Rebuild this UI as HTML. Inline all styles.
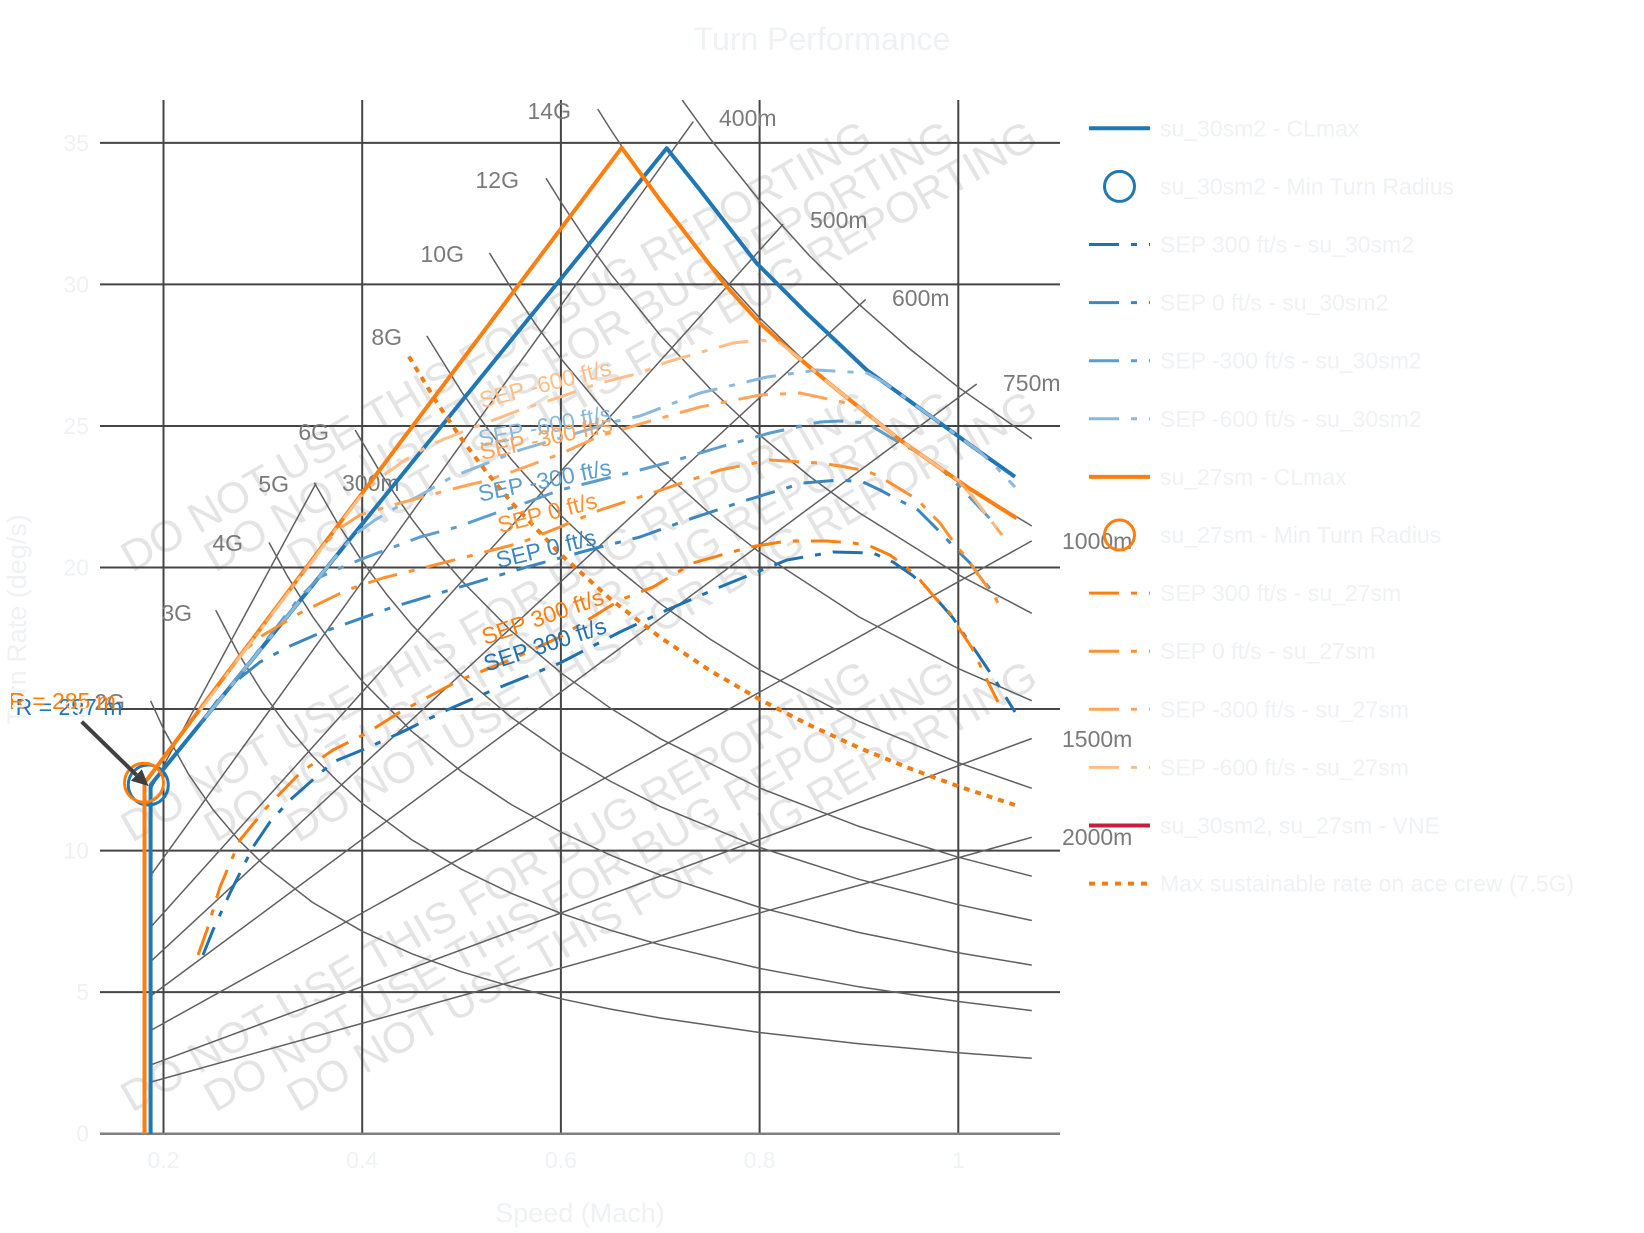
<!DOCTYPE html>
<html><head><meta charset="utf-8"><style>html,body{margin:0;padding:0;background:#fff}svg{display:block}</style></head>
<body>
<svg width="1644" height="1233" viewBox="0 0 1644 1233" xmlns="http://www.w3.org/2000/svg" font-family="'Liberation Sans', Arial, sans-serif">
<rect width="1644" height="1233" fill="#ffffff"/>
<defs><clipPath id="pa"><rect x="100" y="100" width="960" height="1034"/></clipPath></defs>

<!-- watermark -->
<g fill="#e4e4e4" font-size="43">
<text transform="translate(132,573) rotate(-30)" textLength="857" lengthAdjust="spacingAndGlyphs">DO NOT USE THIS FOR BUG REPORTING</text>
<text transform="translate(215,573) rotate(-30)" textLength="857" lengthAdjust="spacingAndGlyphs">DO NOT USE THIS FOR BUG REPORTING</text>
<text transform="translate(298,573) rotate(-30)" textLength="857" lengthAdjust="spacingAndGlyphs">DO NOT USE THIS FOR BUG REPORTING</text>
<text transform="translate(132,843) rotate(-30)" textLength="857" lengthAdjust="spacingAndGlyphs">DO NOT USE THIS FOR BUG REPORTING</text>
<text transform="translate(215,843) rotate(-30)" textLength="857" lengthAdjust="spacingAndGlyphs">DO NOT USE THIS FOR BUG REPORTING</text>
<text transform="translate(298,843) rotate(-30)" textLength="857" lengthAdjust="spacingAndGlyphs">DO NOT USE THIS FOR BUG REPORTING</text>
<text transform="translate(132,1113) rotate(-30)" textLength="857" lengthAdjust="spacingAndGlyphs">DO NOT USE THIS FOR BUG REPORTING</text>
<text transform="translate(215,1113) rotate(-30)" textLength="857" lengthAdjust="spacingAndGlyphs">DO NOT USE THIS FOR BUG REPORTING</text>
<text transform="translate(298,1113) rotate(-30)" textLength="857" lengthAdjust="spacingAndGlyphs">DO NOT USE THIS FOR BUG REPORTING</text>
</g>

<!-- grid -->
<g stroke="#454545" stroke-width="2" fill="none">
<path d="M100,992.15H1060M100,850.6H1060M100,709.05H1060M100,567.5H1060M100,425.95H1060M100,284.4H1060M100,142.85H1060"/>
<path d="M163.5,100V1133.7M362.2,100V1133.7M560.9,100V1133.7M759.6,100V1133.7M958.3,100V1133.7"/>
</g>
<path d="M100,1133.7H1060" stroke="#808080" stroke-width="2.5"/>

<!-- gray reference curves -->
<g stroke="#606060" stroke-width="1.5" fill="none" clip-path="url(#pa)">
<path d="M150.6,789.7L316,483.4"/>
<path d="M150.6,875.6L693.3,121.6"/>
<path d="M150.6,927.2L783.2,224.1"/>
<path d="M150.6,961.6L865.7,299.4"/>
<path d="M150.6,996L976.7,384"/>
<path d="M150.6,1030.5L1031.8,540.9"/>
<path d="M150.6,1064.9L1031.8,738.5"/>
<path d="M150.6,1082.1L1031.8,837.3"/>
<path d="M150.6,700.8L163.5,728.9L188.3,773.9L213.2,809.9L238,839.3L262.85,863.8L312.5,902.4L362.2,931.3L411.9,953.8L461.55,971.8L511.2,986.5L560.9,998.8L610.6,1009.1L660.25,1018L759.6,1032.5L858.95,1043.7L958.3,1052.7L1031.8,1058.3"/>
<path d="M215.7,610.1L238,652.9L262.85,693L287.7,726.9L312.5,756L337.4,781.1L362.2,803.2L411.9,839.9L461.55,869.3L511.2,893.3L560.9,913.3L610.6,930.3L660.25,944.8L759.6,968.4L858.95,986.8L958.3,1001.5L1031.8,1010.6"/>
<path d="M269,542.5L287.7,576.7L312.5,616.4L337.4,650.9L362.2,681.1L411.9,731.4L461.55,771.6L511.2,804.5L560.9,832L610.6,855.2L660.25,875.1L759.6,907.4L858.95,932.5L958.3,952.7L1031.8,965.1"/>
<path d="M314.3,482.8L337.4,523L362.2,561.2L387,594.9L411.9,624.8L461.55,675.7L511.2,717.3L560.9,752L610.6,781.4L660.25,806.6L759.6,847.4L858.95,879.3L958.3,904.7L1031.8,920.5"/>
<path d="M355.2,430.1L382.1,475.3L411.9,519.2L436.7,551.5L461.55,580.6L511.2,630.9L560.9,672.8L610.6,708.3L660.25,738.7L759.6,788L858.95,826.4L958.3,857.2L1031.8,876.2"/>
<path d="M426.8,335.9L461.55,391.7L486.4,427L511.2,459.1L560.9,515.4L610.6,562.9L660.25,603.7L709.9,639L759.6,669.9L858.95,721.5L958.3,762.7L1031.8,788.3"/>
<path d="M489.4,252.9L511.2,288.1L536,324.9L560.9,358.6L610.6,418.2L660.25,469.3L709.9,513.6L759.6,552.3L858.95,616.9L958.3,668.6L1031.8,700.7"/>
<path d="M546,178.2L560.9,202.1L585.7,239.4L610.6,273.8L660.25,335.2L709.9,388.4L759.6,435L809.3,476.1L858.95,512.6L958.3,574.7L1031.8,613.3"/>
<path d="M597.7,109L610.6,129.5L635.4,166.7L660.25,201.2L709.9,263.4L759.6,317.8L809.3,365.8L858.95,408.4L908.6,446.6L958.3,481L1031.8,526"/>
<path d="M682.2,100L709.9,138.4L759.6,200.6L809.3,255.5L858.95,304.3L908.6,348L958.3,387.2L1031.8,438.7"/>
</g>

<!-- gray labels -->
<g fill="#7a7a7a" font-size="23">
<g text-anchor="end">
<text x="571" y="119">14G</text>
<text x="519" y="188">12G</text>
<text x="464" y="262">10G</text>
<text x="402" y="345">8G</text>
<text x="329" y="440">6G</text>
<text x="289" y="492">5G</text>
<text x="243" y="551">4G</text>
<text x="192" y="621">3G</text>
<text x="125" y="710">2G</text>
</g>
<text x="342" y="491">300m</text>
<text x="719" y="126">400m</text>
<text x="810" y="228">500m</text>
<text x="892" y="306">600m</text>
<text x="1003" y="391">750m</text>
<text x="1062" y="549">1000m</text>
<text x="1062" y="747">1500m</text>
<text x="1062" y="845">2000m</text>
</g>

<g fill="none" clip-path="url(#pa)" stroke-linejoin="round">
<!-- su_30sm2 CLmax -->
<path d="M150.6,1133.7L150.6,785L666.7,148.3L700,190L756.7,263.3L806.7,313.3L866.7,370L900,394L940,423L980,452L1015,476.7" stroke="#1f77b4" stroke-width="4"/>
<circle cx="148.3" cy="785" r="20" stroke="#1f77b4" stroke-width="3"/>
<g stroke-width="3" stroke-dasharray="30 12 6 12">
<path d="M203,955L213,930L230,893L253,847L270,822L290,800L333,762L367,748L400,733L447,710L493,690L560,663L620,632L667,610L720,587L757,572L787,560L833,552L873,553L893,562L912,575L927,588L940,603L953,618L963,633L977,653L987,668L997,683L1015,712" stroke="#1f72b0"/>
<path d="M200,724L220,697L240,678L260,662L290,646L320,633L393,607L460,587L527,567L600,547L640,537L687,520L747,500L803,483L840,480L863,482L880,490L893,497L918,510L928,520L940,532L957,550L970,563L980,577L998,598" stroke="#3a87c0"/>
<path d="M230,687L300,597L320,577L347,565L367,557L383,551L420,537L457,527L493,514L520,505L560,490L600,480L640,470L670,462L720,447L770,433L820,422L840,421L867,423L883,433L900,443L917,452L940,468L960,487L980,508L993,522" stroke="#5c9dcc"/>
<path d="M205,718L340,551.3L357,533L375,520L397,507L417,497L452,477L485,464L520,450L560,438L617,421L640,416L700,393L767,377L817,370L867,373L883,381.7L900,394L940,423L980,452L997,468L1015,487" stroke="#8bb9de"/>
</g>
<!-- su_27sm CLmax -->
<path d="M144.5,1133.7L144.5,783L621.7,147.7L660,200L693.3,243.3L726.7,286.7L760,323.3L793.3,353.3L833.3,386.7L866.7,413.3L900,440L933.3,463.3L966.7,486.7L1016.7,518.3" stroke="#ff7f0e" stroke-width="4"/>
<circle cx="144" cy="782.7" r="19.5" stroke="#ff7f0e" stroke-width="3"/>
<g stroke-width="3" stroke-dasharray="30 12 6 12">
<path d="M198,955L207,930L220,887L240,840L267,807L300,773L333,750L367,733L400,712L460,680L510,660L560,637L620,600L653,587L693,563L750,547L787,541L827,541L853,543L870,546L890,555L907,568L920,580L937,600L950,613L960,630L972,648L987,680L998,702" stroke="#ff7f0e"/>
<path d="M222,681L240,655L260,637L300,613L347,590L383,578L427,567L493,550L520,543L560,527L600,510L640,497L670,487L720,470L770,460L820,463L840,466L867,471L880,477L897,487L918,500L930,513L940,523L958,548L967,558L977,573L995,597L1000,608" stroke="#ff9130"/>
<path d="M230,670L325,544L340,528L360,515L393,505L430,495L460,487L485,481L520,469L560,454L600,436L640,424L700,407L760,395L800,393L833,400L855,405L866.7,413.3L900,440L933.3,463.3L958,480L973,497L1002,535" stroke="#ffa55a"/>
<path d="M200,710.6L360,497L380,478L405,460L430,445L467,430L520,410L560,397L600,383L640,373L667,362L733,343L760,340L780,343L793.3,353.3L833.3,386.7L866.7,413.3L900,440L933.3,463.3L958,480L973,497L1002,535" stroke="#ffbe88"/>
</g>
<!-- 7.5G dotted -->
<path d="M408.9,356.5L436.7,402.3L461.55,438.9L486.4,472L511.2,502.1L560.9,554.7L610.6,599.2L660.25,637.4L709.9,670.5L759.6,699.4L809.3,725L858.95,747.7L908.6,768L958.3,786.3L1014.9,805" stroke="#f37b12" stroke-width="4" stroke-dasharray="6 6"/>
</g>

<!-- SEP labels -->
<g font-size="23">
<text transform="translate(481.7,408.3) rotate(-14.4)" fill="#ffbe88">SEP -600 ft/s</text>
<text transform="translate(480,446.7) rotate(-11)" fill="#8bb9de">SEP -600 ft/s</text>
<text transform="translate(481.7,460) rotate(-12.4)" fill="#ffa55a">SEP -300 ft/s</text>
<text transform="translate(480,501.7) rotate(-11.6)" fill="#5c9dcc">SEP -300 ft/s</text>
<text transform="translate(500,533.3) rotate(-14.7)" fill="#ff9130">SEP 0 ft/s</text>
<text transform="translate(498.3,568.3) rotate(-13.6)" fill="#3a87c0">SEP 0 ft/s</text>
<text transform="translate(485,645) rotate(-19.1)" fill="#ff7f0e">SEP 300 ft/s</text>
<text transform="translate(486.7,671.7) rotate(-18)" fill="#1f72b0">SEP 300 ft/s</text>
</g>

<!-- min radius annotations -->
<line x1="81.7" y1="721.7" x2="136.4" y2="775" stroke="#404040" stroke-width="4"/>
<polygon points="148.5,786 130.9,780.8 141.9,769.2" fill="#404040"/>
<text x="69" y="715" font-size="23" fill="#1f77b4" text-anchor="middle">R = 297 m</text>
<text x="62.5" y="709" font-size="23" fill="#ff7f0e" text-anchor="middle">R = 285 m</text>

<!-- axes text (faint) -->
<g fill="#eff1f5" font-size="23">
<g text-anchor="end">
<text x="89" y="1141.7">0</text>
<text x="89" y="1000">5</text>
<text x="89" y="858.6">10</text>
<text x="89" y="717">15</text>
<text x="89" y="575.5">20</text>
<text x="89" y="434">25</text>
<text x="89" y="292.4">30</text>
<text x="89" y="150.9">35</text>
</g>
<g text-anchor="middle">
<text x="163.5" y="1168">0.2</text>
<text x="362.2" y="1168">0.4</text>
<text x="560.9" y="1168">0.6</text>
<text x="759.6" y="1168">0.8</text>
<text x="958.3" y="1168">1</text>
</g>
<text x="822" y="50" font-size="32" text-anchor="middle">Turn Performance</text>
<text x="580" y="1222" font-size="27" text-anchor="middle">Speed (Mach)</text>
<text transform="translate(26,619.5) rotate(-90)" font-size="27" text-anchor="middle">Turn Rate (deg/s)</text>
</g>

<!-- legend -->
<g fill="none">
<path d="M1089,128.3H1150" stroke="#1f77b4" stroke-width="4"/>
<circle cx="1119.5" cy="186.4" r="15" stroke="#1f77b4" stroke-width="3"/>
<g stroke-width="3" stroke-dasharray="30 12 6 12">
<path d="M1089,244.5H1150" stroke="#1f72b0"/>
<path d="M1089,302.6H1150" stroke="#3a87c0"/>
<path d="M1089,360.7H1150" stroke="#5c9dcc"/>
<path d="M1089,418.8H1150" stroke="#8bb9de"/>
</g>
<path d="M1089,476.9H1150" stroke="#ff7f0e" stroke-width="4"/>
<circle cx="1119.5" cy="535" r="15" stroke="#ff7f0e" stroke-width="3"/>
<g stroke-width="3" stroke-dasharray="30 12 6 12">
<path d="M1089,593.1H1150" stroke="#ff7f0e"/>
<path d="M1089,651.2H1150" stroke="#ff9130"/>
<path d="M1089,709.3H1150" stroke="#ffa55a"/>
<path d="M1089,767.4H1150" stroke="#ffbe88"/>
</g>
<path d="M1089,825.5H1150" stroke="#c4203b" stroke-width="4"/>
<path d="M1089,883.6H1150" stroke="#f37b12" stroke-width="4" stroke-dasharray="6 7"/>
</g>
<g fill="#eff1f5" font-size="23">
<text x="1160" y="136.3">su_30sm2 - CLmax</text>
<text x="1160" y="194.4">su_30sm2 - Min Turn Radius</text>
<text x="1160" y="252.5">SEP 300 ft/s - su_30sm2</text>
<text x="1160" y="310.6">SEP 0 ft/s - su_30sm2</text>
<text x="1160" y="368.7">SEP -300 ft/s - su_30sm2</text>
<text x="1160" y="426.8">SEP -600 ft/s - su_30sm2</text>
<text x="1160" y="484.9">su_27sm - CLmax</text>
<text x="1160" y="543">su_27sm - Min Turn Radius</text>
<text x="1160" y="601.1">SEP 300 ft/s - su_27sm</text>
<text x="1160" y="659.2">SEP 0 ft/s - su_27sm</text>
<text x="1160" y="717.3">SEP -300 ft/s - su_27sm</text>
<text x="1160" y="775.4">SEP -600 ft/s - su_27sm</text>
<text x="1160" y="833.5">su_30sm2, su_27sm - VNE</text>
<text x="1160" y="891.6">Max sustainable rate on ace crew (7.5G)</text>
</g>
</svg>
</body></html>
